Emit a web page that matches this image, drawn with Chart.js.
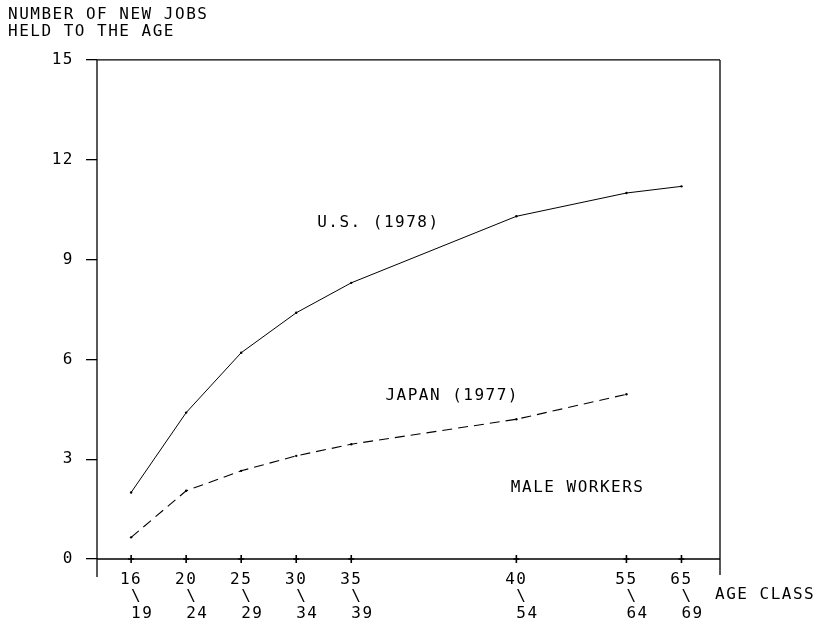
<!DOCTYPE html>
<html>
<head>
<meta charset="utf-8">
<script src="https://cdn.jsdelivr.net/npm/chart.js@4/dist/chart.umd.min.js"></script>
<style>
  html, body { margin: 0; padding: 0; background: #fff; }
  #wrap { width: 817px; height: 622px; }
</style>
</head>
<body>
<div id="wrap"><canvas id="c" width="817" height="622"></canvas></div>
<script>
// ---- data ----
const ageStart = [16, 20, 25, 30, 35, 40, 55, 65];   // age class lower bound
const ageEnd   = [19, 24, 29, 34, 39, 54, 64, 69];   // age class upper bound (x position)
const usJobs    = [2.0, 4.4, 6.2, 7.4, 8.3, 10.3, 11.0, 11.2];
const japanJobs = [0.65, 2.05, 2.65, 3.1, 3.45, 4.2, 4.95, null];
const yTicks = [0, 3, 6, 9, 12, 15];
const titleLines = ['NUMBER OF NEW JOBS', 'HELD TO THE AGE'];
const seriesNames = ['U.S. (1978)', 'JAPAN (1977)'];
const noteText = 'MALE WORKERS';
const xAxisTitle = 'AGE CLASS';

const FONT = 'DejaVu Sans Mono';
const SPACING = '1.5px';

const toPoints = (vals) => ageEnd.map((x, i) => ({ x: x, y: vals[i] }));

const plotterPlugin = {
  id: 'plotter',
  beforeUpdate(chart) { chart.ctx.letterSpacing = SPACING; },
  beforeDraw(chart) { chart.ctx.letterSpacing = SPACING; },
  afterDraw(chart) {
    const ctx = chart.ctx;
    const a = chart.chartArea;
    const xs = chart.scales.x, ys = chart.scales.y;
    const y0 = ys.getPixelForValue(0);
    ctx.save();
    ctx.letterSpacing = SPACING;
    ctx.strokeStyle = '#000';
    ctx.lineWidth = 1.3;
    ctx.beginPath();
    // left axis (extends below the x axis)
    ctx.moveTo(a.left, a.top); ctx.lineTo(a.left, y0 + 18);
    // top border
    ctx.moveTo(a.left, a.top); ctx.lineTo(a.right, a.top);
    // right border (extends below)
    ctx.moveTo(a.right, a.top); ctx.lineTo(a.right, y0 + 16);
    // x axis at y = 0
    ctx.moveTo(a.left, y0); ctx.lineTo(a.right, y0);
    ctx.stroke();
    // "+" tick marks on the x axis
    ctx.lineWidth = 1.6;
    ctx.beginPath();
    xs.ticks.forEach(t => {
      const px = xs.getPixelForValue(t.value);
      ctx.moveTo(px, y0 - 4); ctx.lineTo(px, y0 + 4);
      ctx.moveTo(px - 3, y0); ctx.lineTo(px + 3, y0);
    });
    ctx.stroke();
    // text annotations
    ctx.fillStyle = '#000';
    ctx.font = '16px "' + FONT + '"';
    ctx.textAlign = 'left';
    ctx.textBaseline = 'middle';
    const notes = chart.options.plugins.plotter.notes;
    notes.forEach(n => {
      ctx.fillText(n.text, xs.getPixelForValue(n.x), ys.getPixelForValue(n.y));
    });
    ctx.fillText(xAxisTitle, a.right - 5, y0 + 36);
    ctx.restore();
  }
};

new Chart(document.getElementById('c'), {
  type: 'line',
  data: {
    datasets: [
      {
        label: seriesNames[0],
        data: toPoints(usJobs),
        borderColor: '#000',
        backgroundColor: '#000',
        borderWidth: 1,
        pointRadius: 1.2,
        pointBorderWidth: 0,
        tension: 0,
        fill: false
      },
      {
        label: seriesNames[1],
        data: toPoints(japanJobs),
        borderColor: '#000',
        backgroundColor: '#000',
        borderWidth: 1.1,
        borderDash: [10, 6],
        pointRadius: 1.2,
        pointBorderWidth: 0,
        tension: 0,
        fill: false,
        spanGaps: false
      }
    ]
  },
  options: {
    responsive: false,
    animation: false,
    events: [],
    layout: { padding: { left: 8, right: 97, top: 0, bottom: 0 } },
    plugins: {
      legend: { display: false },
      tooltip: { enabled: false },
      title: {
        display: true,
        text: titleLines,
        align: 'start',
        color: '#000',
        font: { family: FONT, size: 16, weight: 'normal', lineHeight: 1.06 },
        padding: { top: 6, bottom: 20 }
      },
      plotter: {
        notes: [
          { text: seriesNames[0], x: 35.9, y: 10.1 },
          { text: seriesNames[1], x: 42.1, y: 4.9 },
          { text: noteText, x: 53.5, y: 2.13 }
        ]
      }
    },
    scales: {
      x: {
        type: 'linear',
        min: 15.9,
        max: 72.5,
        border: { display: false },
        grid: { display: false, drawTicks: false },
        afterBuildTicks: (s) => { s.ticks = ageEnd.map(v => ({ value: v })); },
        afterFit: (s) => { s.height = 63; },
        ticks: {
          autoSkip: false,
          maxRotation: 0,
          padding: 13,
          color: '#000',
          font: { family: FONT, size: 16, lineHeight: 1.04 },
          callback: (v) => {
            const i = ageEnd.indexOf(v);
            return i < 0 ? '' : [String(ageStart[i]), ' \\', '  ' + ageEnd[i]];
          }
        }
      },
      y: {
        type: 'linear',
        min: 0,
        max: 15,
        border: { display: false },
        grid: { drawOnChartArea: false, drawTicks: true, tickLength: 11, color: '#000', lineWidth: 1.3 },
        afterBuildTicks: (s) => { s.ticks = yTicks.map(v => ({ value: v })); },
        afterFit: (s) => { s.width = 89; },
        ticks: {
          padding: 12,
          color: '#000',
          font: { family: FONT, size: 16 }
        }
      }
    }
  },
  plugins: [plotterPlugin]
});
</script>
</body>
</html>
